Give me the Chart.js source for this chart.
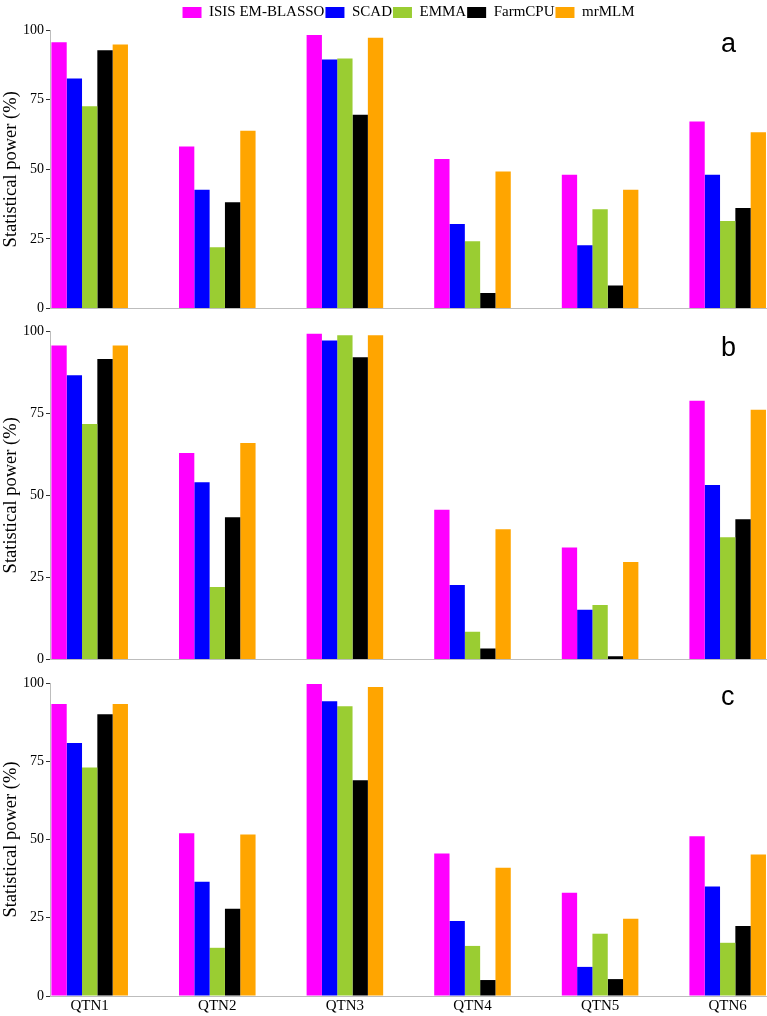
<!DOCTYPE html>
<html>
<head>
<meta charset="utf-8">
<script src="https://cdn.jsdelivr.net/npm/chart.js@4.4.0/dist/chart.umd.min.js"></script>
<style>
  html, body { margin: 0; padding: 0; background: #fff; overflow: hidden; }
  body { width: 767px; height: 1016px; position: relative; }
  .panel { position: absolute; left: 0; width: 767px; }
  .panel canvas { display: block; }
  .tag { position: absolute; font-family: 'Liberation Sans', Arial, sans-serif; font-size: 27px; line-height: 1; color: #000; }
</style>
</head>
<body>
<div class="panel" style="top:0;height:319px"><canvas id="chartA"></canvas></div>
<div class="panel" style="top:316px;height:354px"><canvas id="chartB"></canvas></div>
<div class="panel" style="top:666px;height:350px"><canvas id="chartC"></canvas></div>
<div class="tag" style="left:721px;top:30px">a</div>
<div class="tag" style="left:721px;top:334px">b</div>
<div class="tag" style="left:721px;top:683px">c</div>

<script>
const qtnLabels = ['QTN1', 'QTN2', 'QTN3', 'QTN4', 'QTN5', 'QTN6'];
const methods = ['ISIS EM-BLASSO', 'SCAD', 'EMMA', 'FarmCPU', 'mrMLM'];
const methodColors = ['#ff00ff', '#0000ff', '#9acd32', '#000000', '#ffa500'];

// panel a
const aIsis  = [95.6, 58.2, 98.2, 53.7, 48.0, 67.2];
const aScad  = [82.6, 42.7, 89.4, 30.4, 22.7, 48.0];
const aEmma  = [72.6, 22.0, 89.8, 24.2, 35.7, 31.4];
const aFarm  = [92.7, 38.2, 69.6, 5.6, 8.3, 36.1];
const aMrmlm = [94.8, 63.8, 97.2, 49.2, 42.7, 63.3];

// panel b
const bIsis  = [95.6, 62.9, 99.2, 45.6, 34.1, 78.8];
const bScad  = [86.5, 54.0, 97.1, 22.7, 15.2, 53.1];
const bEmma  = [71.7, 22.1, 98.7, 8.5, 16.6, 37.2];
const bFarm  = [91.5, 43.3, 92.0, 3.4, 1.0, 42.7];
const bMrmlm = [95.6, 65.9, 98.7, 39.7, 29.7, 76.0];

// panel c
const cIsis  = [93.3, 52.0, 99.7, 45.5, 33.0, 51.0];
const cScad  = [80.8, 36.5, 94.2, 24.0, 9.3, 35.0];
const cEmma  = [73.0, 15.4, 92.6, 16.0, 19.9, 17.0];
const cFarm  = [90.0, 27.9, 68.9, 5.1, 5.4, 22.4];
const cMrmlm = [93.3, 51.6, 98.7, 41.0, 24.7, 45.2];

const yTitle = 'Statistical power (%)';
const serif = 'Liberation Serif';

Chart.defaults.animation = false;

const makePanel = (id, series, showLegend, showLabels, pad) => {
    const datasets = series.map((vals, i) => ({
        label: methods[i],
        data: vals.map((v, j) => ({ x: j + 1, y: v })),
        backgroundColor: methodColors[i],
        borderWidth: 0,
        categoryPercentage: 0.6,
        barPercentage: 1.0,
    }));

    new Chart(document.getElementById(id), {
        type: 'bar',
        data: { datasets },
        options: {
            responsive: true,
            maintainAspectRatio: false,
            layout: { padding: pad },
            plugins: {
                tooltip: { enabled: false },
                legend: {
                    display: showLegend,
                    position: 'top',
                    fullSize: false,
                    labels: {
                        boxWidth: 19,
                        boxHeight: 11,
                        padding: 1,
                        color: '#000',
                        font: { family: serif, size: 15 },
                    },
                },
            },
            scales: {
                x: {
                    type: 'linear',
                    offset: false,
                    min: 0.689,
                    max: 6.308,
                    grid: { display: false, drawTicks: false, offset: false },
                    border: { display: true, color: '#bdbdbd', width: 1 },
                    afterBuildTicks: (scale) => {
                        scale.ticks = qtnLabels.map((_, i) => ({ value: i + 1 }));
                    },
                    ticks: {
                        display: showLabels,
                        autoSkip: false,
                        maxRotation: 0,
                        padding: 1,
                        color: '#000',
                        font: { family: serif, size: 15 },
                        callback: (v) => qtnLabels[v - 1],
                    },
                },
                y: {
                    min: 0,
                    max: 100,
                    afterFit: (scale) => { scale.width = 50; },
                    grid: {
                        display: true,
                        drawOnChartArea: false,
                        drawTicks: true,
                        tickLength: 4,
                        color: '#333',
                        tickColor: '#333',
                    },
                    border: { display: true, color: '#bdbdbd', width: 1 },
                    ticks: {
                        stepSize: 25,
                        padding: 2,
                        color: '#000',
                        font: { family: serif, size: 14 },
                    },
                    title: {
                        display: true,
                        text: yTitle,
                        color: '#000',
                        padding: 0,
                        font: { family: serif, size: 18.5 },
                    },
                },
            },
        },
    });
};

makePanel('chartA', [aIsis, aScad, aEmma, aFarm, aMrmlm], true, false, { top: 4, bottom: 0, left: 0, right: 0 });
makePanel('chartB', [bIsis, bScad, bEmma, bFarm, bMrmlm], false, false, { top: 15, bottom: 0, left: 0, right: 0 });
makePanel('chartC', [cIsis, cScad, cEmma, cFarm, cMrmlm], false, true, { top: 17, bottom: 0, left: 0, right: 0 });
</script>
</body>
</html>
